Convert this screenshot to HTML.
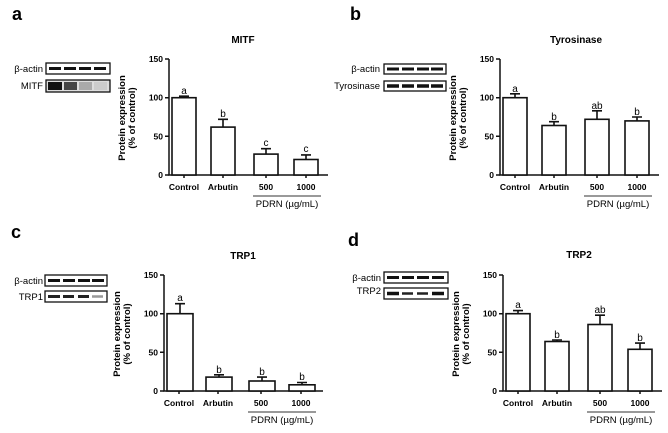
<!DOCTYPE html>
<html><head><meta charset="utf-8"><style>
html,body{margin:0;padding:0;background:#fff;}
svg{display:block;font-family:"Liberation Sans",Arial,sans-serif;}
.t{font-weight:bold;font-size:9.5px;}
.tt{font-weight:bold;font-size:10px;text-anchor:middle;}
.tk{font-size:8.5px;font-weight:bold;text-anchor:end;}
.xl{font-size:8.5px;font-weight:bold;text-anchor:middle;}
.lt{font-size:10px;text-anchor:middle;}
.bl{font-size:9.5px;text-anchor:end;}
.pl{font-size:18px;font-weight:bold;}
.bar{fill:#fff;stroke:#111;stroke-width:1.6;}
.ax{stroke:#111;stroke-width:1.5;fill:none;}
.eb{stroke:#111;stroke-width:1.6;fill:none;}
</style></head><body>
<svg width="668" height="433" viewBox="0 0 668 433" xmlns="http://www.w3.org/2000/svg">
<defs>
<g id="axes">
<path class="ax" d="M169 59 V175 H328"/>
<path class="ax" d="M165 59 H169 M165 97.7 H169 M165 136.3 H169 M165 175 H169"/>
<path class="ax" d="M184 175 V178 M223 175 V178 M266 175 V178 M306 175 V178"/>
<text class="tk" x="163" y="62">150</text>
<text class="tk" x="163" y="100.7">100</text>
<text class="tk" x="163" y="139.3">50</text>
<text class="tk" x="163" y="178">0</text>
<text class="t" text-anchor="middle" transform="translate(125,118) rotate(-90)">Protein expression</text>
<text class="t" text-anchor="middle" transform="translate(135,118) rotate(-90)">(% of control)</text>
<text class="xl" x="184" y="190">Control</text>
<text class="xl" x="223" y="190">Arbutin</text>
<text class="xl" x="266" y="190">500</text>
<text class="xl" x="306" y="190">1000</text>
<path d="M253 196 H321" stroke="#333" stroke-width="1"/>
<text class="xl" x="287" y="207" style="font-weight:normal;font-size:9.5px">PDRN (µg/mL)</text>
</g>
</defs>

<g>
<text class="pl" x="12" y="20">a</text>
<use href="#axes"/>
<text class="tt" x="243" y="43">MITF</text>
<text class="bl" x="43" y="72">β-actin</text>
<rect x="46" y="63" width="64" height="11" fill="#fff" stroke="#111" stroke-width="1.3"/>
<path d="M49 68.5h12M64 68.5h12M79 68.5h12M94 68.5h12" stroke="#111" stroke-width="3"/>
<text class="bl" x="43" y="89">MITF</text>
<rect x="46" y="80" width="64" height="12" fill="#ddd" stroke="#111" stroke-width="1.3"/>
<rect x="48" y="82" width="14" height="8" fill="#111"/>
<rect x="64" y="82" width="13" height="8" fill="#444"/>
<rect x="79" y="82" width="13" height="8" fill="#aaa"/>
<rect x="94" y="82" width="13" height="8" fill="#ccc"/>
<rect class="bar" x="172" y="97.7" width="24" height="77.3"/>
<rect class="bar" x="211" y="127.1" width="24" height="47.9"/>
<rect class="bar" x="254" y="154.1" width="24" height="20.9"/>
<rect class="bar" x="294" y="159.5" width="24" height="15.5"/>
<path class="eb" d="M184 97.7V96.2M179 96.2h10 M223 127.1V119.3M218 119.3h10 M266 154.1V148.7M261 148.7h10 M306 159.5V154.9M301 154.9h10"/>
<text class="lt" x="184" y="94">a</text><text class="lt" x="223" y="117">b</text>
<text class="lt" x="266" y="146">c</text><text class="lt" x="306" y="152">c</text>
</g>

<g transform="translate(331,0)">
<text class="pl" x="19" y="20">b</text>
<use href="#axes"/>
<text class="tt" x="245" y="43">Tyrosinase</text>
<text class="bl" x="49" y="72">β-actin</text>
<rect x="53" y="64" width="62" height="10" fill="#fff" stroke="#111" stroke-width="1.3"/>
<path d="M56 69h12M71 69h12M86 69h12M100 69h12" stroke="#111" stroke-width="3"/>
<text class="bl" x="49" y="89">Tyrosinase</text>
<rect x="53" y="81" width="62" height="10" fill="#fff" stroke="#111" stroke-width="1.3"/>
<path d="M56 86h12M71 86h12M86 86h12M100 86h12" stroke="#111" stroke-width="3.4"/>
<rect class="bar" x="172" y="97.7" width="24" height="77.3"/>
<rect class="bar" x="211" y="125.5" width="24" height="49.5"/>
<rect class="bar" x="254" y="119.3" width="24" height="55.7"/>
<rect class="bar" x="294" y="120.9" width="24" height="54.1"/>
<path class="eb" d="M184 97.7V93.8M179 93.8h10 M223 125.5V121.7M218 121.7h10 M266 119.3V110.8M261 110.8h10 M306 120.9V117M301 117h10"/>
<text class="lt" x="184" y="92">a</text><text class="lt" x="223" y="120">b</text>
<text class="lt" x="266" y="109">ab</text><text class="lt" x="306" y="115">b</text>
</g>

<g transform="translate(-5,216)">
<text class="pl" x="16" y="22">c</text>
<use href="#axes"/>
<text class="tt" x="248" y="43">TRP1</text>
<text class="bl" x="48" y="68">β-actin</text>
<rect x="50" y="59" width="62" height="11" fill="#fff" stroke="#111" stroke-width="1.3"/>
<path d="M53 64.5h12M68 64.5h12M83 64.5h12M97 64.5h12" stroke="#111" stroke-width="3"/>
<text class="bl" x="48" y="84">TRP1</text>
<rect x="50" y="75" width="62" height="11" fill="#fff" stroke="#111" stroke-width="1.3"/>
<path d="M53 80.5h12M68 80.5h11M83 80.5h11" stroke="#222" stroke-width="3"/>
<path d="M97 80.5h11" stroke="#999" stroke-width="2.5"/>
<rect class="bar" x="172" y="97.7" width="26" height="77.3"/>
<rect class="bar" x="211" y="161.1" width="26" height="13.9"/>
<rect class="bar" x="254" y="165" width="26" height="10"/>
<rect class="bar" x="294" y="168.8" width="26" height="6.2"/>
<path class="eb" d="M185 97.7V87.7M180 87.7h10 M224 161.1V158.8M219 158.8h10 M267 165V161.1M262 161.1h10 M307 168.8V166.5M302 166.5h10"/>
<text class="lt" x="185" y="85">a</text><text class="lt" x="224" y="157">b</text>
<text class="lt" x="267" y="159">b</text><text class="lt" x="307" y="164">b</text>
</g>

<g transform="translate(334,216)">
<text class="pl" x="14" y="30">d</text>
<use href="#axes"/>
<text class="tt" x="245" y="42">TRP2</text>
<text class="bl" x="47" y="65">β-actin</text>
<rect x="50" y="56" width="64" height="11" fill="#fff" stroke="#111" stroke-width="1.3"/>
<path d="M53 61.5h12M68 61.5h12M83 61.5h12M98 61.5h12" stroke="#111" stroke-width="3"/>
<text class="bl" x="47" y="78">TRP2</text>
<rect x="50" y="72" width="64" height="11" fill="#fff" stroke="#111" stroke-width="1.3"/>
<path d="M53 77.5h12M98 77.5h12" stroke="#111" stroke-width="3.5"/>
<path d="M68 77.5h11M83 77.5h11" stroke="#222" stroke-width="2.5"/>
<rect class="bar" x="172" y="97.7" width="24" height="77.3"/>
<rect class="bar" x="211" y="125.5" width="24" height="49.5"/>
<rect class="bar" x="254" y="108.5" width="24" height="66.5"/>
<rect class="bar" x="294" y="133.3" width="24" height="41.7"/>
<path class="eb" d="M184 97.7V94.6M179 94.6h10 M223 125.5V124M218 124h10 M266 108.5V99.2M261 99.2h10 M306 133.3V127.1M301 127.1h10"/>
<text class="lt" x="184" y="92">a</text><text class="lt" x="223" y="122">b</text>
<text class="lt" x="266" y="97">ab</text><text class="lt" x="306" y="125">b</text>
</g>
</svg>
</body></html>
